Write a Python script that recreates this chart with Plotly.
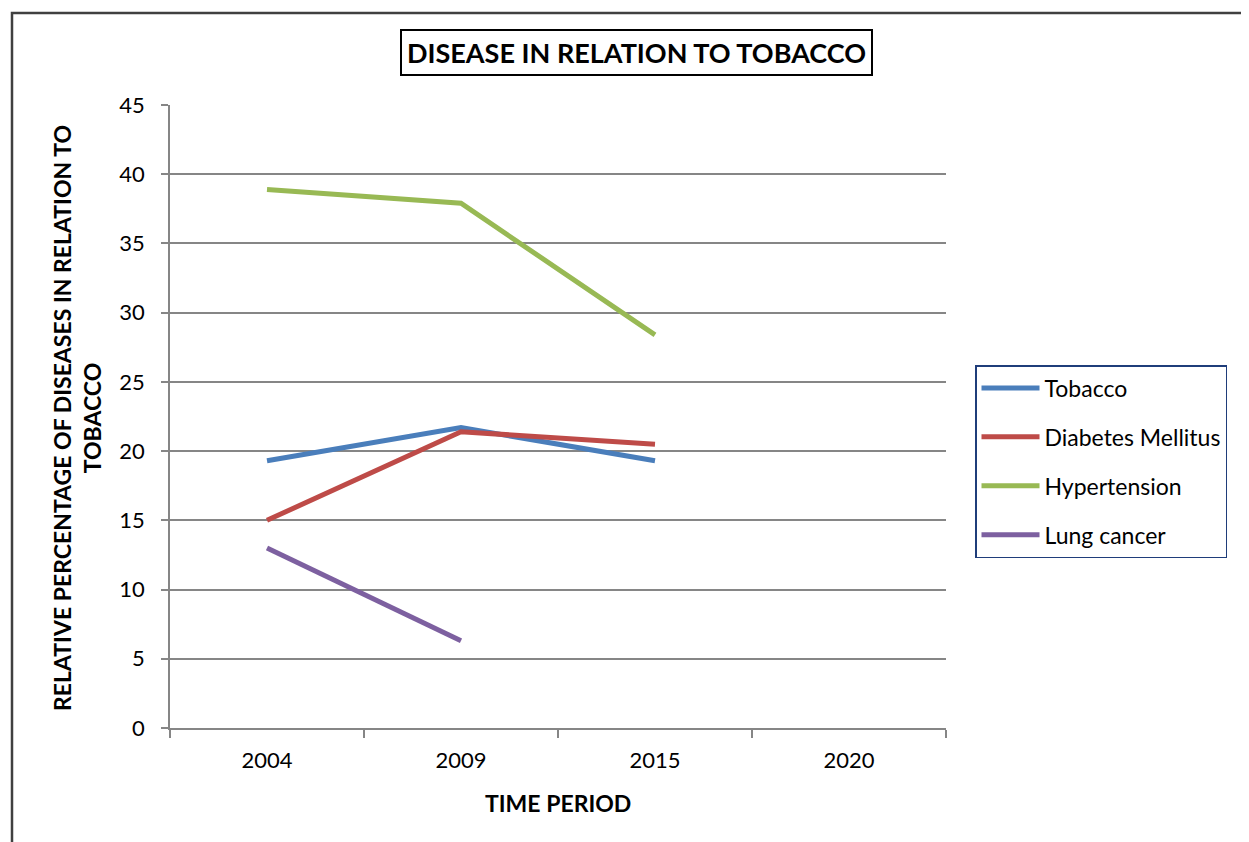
import plotly.graph_objects as go

years = ["2004", "2009", "2015", "2020"]
tobacco = [19.3, 21.7, 19.3, None]
diabetes = [15.0, 21.4, 20.5, None]
hypertension = [38.9, 37.9, 28.4, None]
lung_cancer = [13.0, 6.3, None, None]

series_names = ["Tobacco", "Diabetes Mellitus", "Hypertension", "Lung cancer"]
series_values = [tobacco, diabetes, hypertension, lung_cancer]
colors = ["#4A7EBB", "#BE4B48", "#98B954", "#7D60A0"]

OFF = 8  # browser body margin
W, H = 1249 - OFF, 842 - OFF
L, R, T, B = 170 - OFF, 946 - OFF, 105 - OFF, 728 - OFF
FONT = "Lato, 'Open Sans', sans-serif"

def px(xp):
    return (xp - OFF - L) / (R - L)

def py(yp):
    return (B - (yp - OFF)) / (B - T)

fig = go.Figure()
for i, (name, vals, c) in enumerate(zip(series_names, series_values, colors)):
    fig.add_trace(go.Scatter(
        x=years, y=vals, name=name, mode="lines",
        line=dict(color=c, width=5),
        legendgroup=f"g{i}",
    ))

fig.update_layout(
    width=W, height=H,
    margin=dict(l=L, r=W - R, t=T, b=H - B, pad=0),
    plot_bgcolor="white", paper_bgcolor="white",
    font=dict(family=FONT, size=22, color="black"),
    showlegend=True,
    legend=dict(
        x=px(975), y=py(365), xanchor="left", yanchor="top",
        bordercolor="#1F3D7A", borderwidth=1.5,
        font=dict(family=FONT, size=23, color="black"),
        tracegroupgap=16,
        itemwidth=58,
        bgcolor="white",
    ),
    xaxis=dict(
        type="category", categoryorder="array", categoryarray=years,
        range=[-0.5, 3.5],
        showline=True, linecolor="#868686", linewidth=1.5,
        showgrid=False, ticks="outside", tickson="boundaries",
        ticklen=8, tickcolor="#868686", tickwidth=1.5,
        tickfont=dict(family=FONT, size=22),
        ticklabelstandoff=12,
        zeroline=False,
    ),
    yaxis=dict(
        range=[0, 45], dtick=5, tick0=0,
        showline=True, linecolor="#868686", linewidth=1.5,
        showgrid=True, gridcolor="#868686", gridwidth=1.5,
        ticks="outside", ticklen=7, tickcolor="#868686", tickwidth=1.5,
        tickfont=dict(family=FONT, size=22),
        ticklabelstandoff=12,
        zeroline=False,
    ),
    annotations=[
        dict(text="<b>DISEASE IN RELATION TO TOBACCO</b>",
             x=px(636.5), y=py(53), xref="paper", yref="paper",
             xanchor="center", yanchor="middle", showarrow=False,
             font=dict(family=FONT, size=27, color="black"),
             bordercolor="black", borderwidth=2, borderpad=5, bgcolor="white"),
        dict(text="<b>RELATIVE PERCENTAGE OF DISEASES IN RELATION TO<br>TOBACCO</b>",
             x=px(77), y=py(418), xref="paper", yref="paper",
             xanchor="center", yanchor="middle", showarrow=False,
             textangle=-90,
             font=dict(family=FONT, size=23, color="black")),
        dict(text="<b>TIME PERIOD</b>",
             x=px(558), y=py(803), xref="paper", yref="paper",
             xanchor="center", yanchor="middle", showarrow=False,
             font=dict(family=FONT, size=23, color="black")),
    ],
    shapes=[
        dict(type="path", xref="paper", yref="paper",
             path=f"M {px(12)} {py(870)} L {px(12)} {py(13)} L {px(1270)} {py(13)}",
             line=dict(color="#404040", width=2.5)),
    ],
)

fig.write_html("out.html")
